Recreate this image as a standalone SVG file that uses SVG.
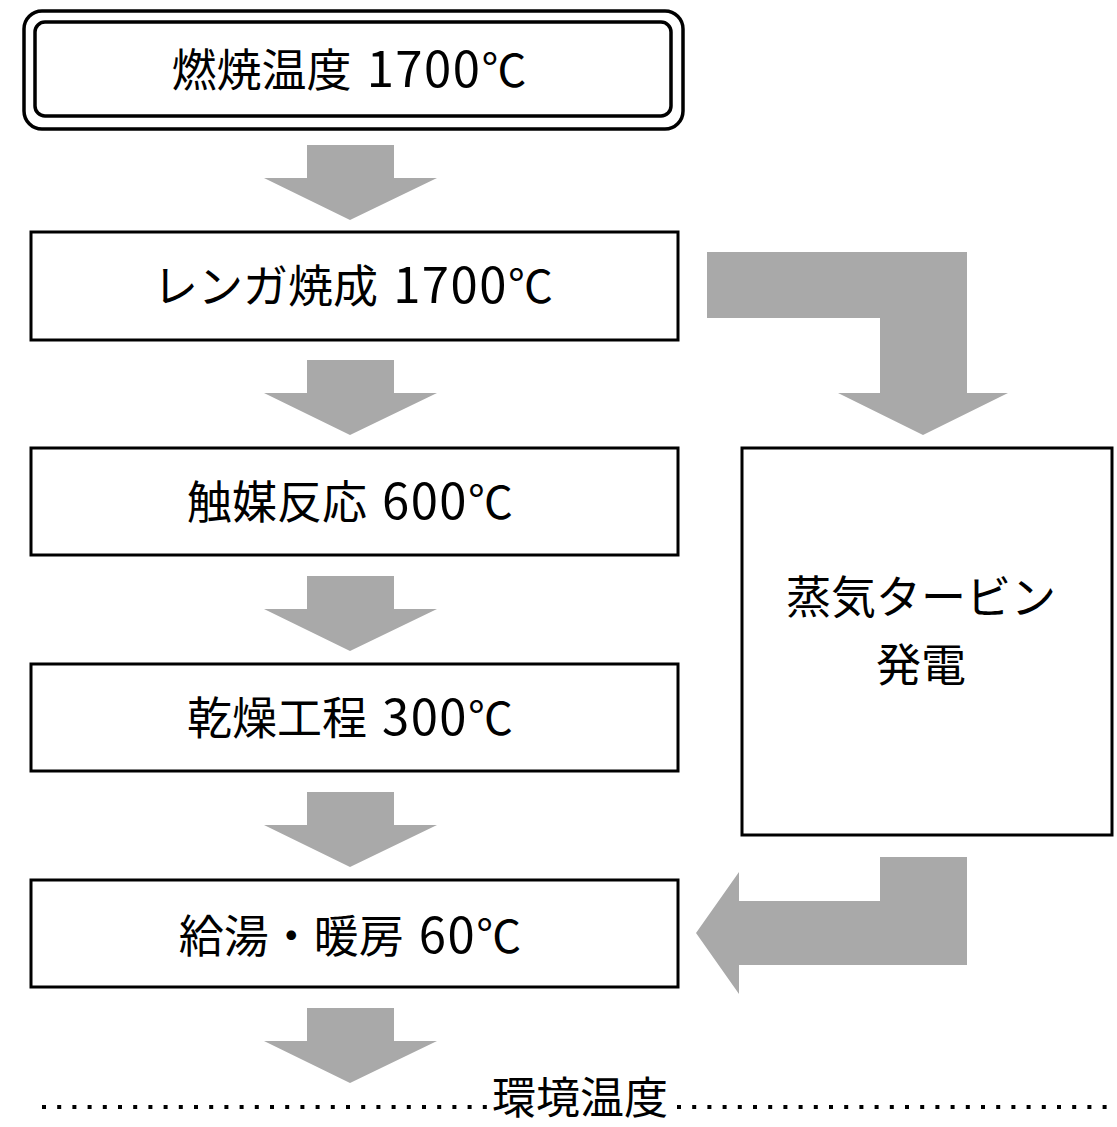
<svg xmlns="http://www.w3.org/2000/svg" width="1117" height="1127" viewBox="0 0 1117 1127">
<style>
.box{fill:#fff;stroke:#000;stroke-width:3}
.dbl{fill:#fff;stroke:#000;stroke-width:3.5}
.arw{fill:#a9a9a9}
.t{font-family:"Noto Sans CJK JP","Noto Sans",sans-serif;font-size:45px;fill:#000;text-anchor:middle}
.num{font-size:49px;letter-spacing:1.5px}
.dot{fill:none;stroke:#000;stroke-width:4;stroke-dasharray:4 11.2}
</style>
<defs>
<polygon id="down" points="307,0 394,0 394,33 437,33 350,75 264,33 307,33"/>
</defs>
<rect x="0" y="0" width="1117" height="1127" fill="#fff"/>
<g id="connectors">
<use href="#down" class="arw" transform="translate(0,145)"/>
<use href="#down" class="arw" transform="translate(0,360)"/>
<use href="#down" class="arw" transform="translate(0,576)"/>
<use href="#down" class="arw" transform="translate(0,792)"/>
<use href="#down" class="arw" transform="translate(0,1008)"/>
<polygon class="arw" points="707,252 967,252 967,393 1008,393 923,435 838,393 880,393 880,318 707,318"/>
<polygon class="arw" points="696,933 739,872 739,901 880,901 880,857 967,857 967,965 739,965 739,994"/>
</g>
<g id="node-combustion">
<rect class="dbl" x="24" y="11" width="659" height="118" rx="18"/>
<rect class="dbl" x="35" y="22" width="636" height="94" rx="10"/>
<text class="t" x="349" y="87">燃焼温度 <tspan class="num" dx="5">1700</tspan>℃</text>
</g>
<g id="node-brick">
<rect class="box" x="31" y="232" width="647" height="108"/>
<text class="t" x="353" y="303">レンガ焼成 <tspan class="num" dx="5">1700</tspan>℃</text>
</g>
<g id="node-catalyst">
<rect class="box" x="31" y="448" width="647" height="107"/>
<text class="t" x="350" y="519">触媒反応 <tspan class="num" dx="5">600</tspan>℃</text>
</g>
<g id="node-drying">
<rect class="box" x="31" y="664" width="647" height="107"/>
<text class="t" x="350" y="735">乾燥工程 <tspan class="num" dx="5">300</tspan>℃</text>
</g>
<g id="node-hotwater">
<rect class="box" x="31" y="880" width="647" height="107"/>
<text class="t" x="350" y="953">給湯・暖房 <tspan class="num" dx="5">60</tspan>℃</text>
</g>
<g id="node-turbine">
<rect class="box" x="742" y="448" width="370" height="387"/>
<text class="t" x="921" y="614">蒸気タービン</text>
<text class="t" x="921" y="682">発電</text>
</g>
<g id="ambient">
<line class="dot" x1="42" y1="1107" x2="487" y2="1107"/>
<line class="dot" x1="677" y1="1107" x2="1117" y2="1107"/>
<text class="t" x="580" y="1114" style="font-size:44px">環境温度</text>
</g>
</svg>
